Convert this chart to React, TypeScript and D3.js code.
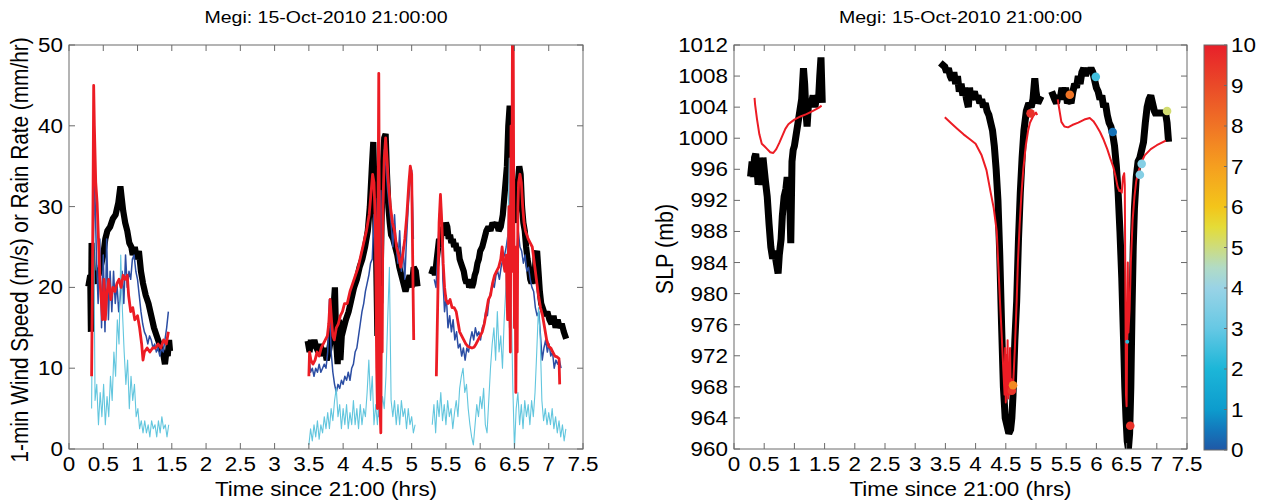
import React from "react";
import * as d3 from "d3";

type Pt = [number, number];

const titleText = "Megi: 15-Oct-2010 21:00:00";
const xLabelText = "Time since 21:00 (hrs)";
const leftYLabelText = "1-min Wind Speed (m/s) or Rain Rate (mm/hr)";
const rightYLabelText = "SLP (mb)";

const timeTicks = [0, 0.5, 1, 1.5, 2, 2.5, 3, 3.5, 4, 4.5, 5, 5.5, 6, 6.5, 7, 7.5];
const windTicks = [0, 10, 20, 30, 40, 50];
const slpTicks = [960, 964, 968, 972, 976, 980, 984, 988, 992, 996, 1000, 1004, 1008, 1012];
const colorTicks = [0, 1, 2, 3, 4, 5, 6, 7, 8, 9, 10];
const colorStopValues = [0, 0.5, 1, 2, 3, 4, 4.5, 5, 5.5, 6, 7, 8, 9, 10];
const colorStopColors = ["#1f58a6", "#1378bc", "#0d9ccd", "#1cb6d8", "#66c8e4", "#99d3e6", "#b1dbc6", "#cddc7e", "#e4dc38", "#f3c51a", "#f59f1f", "#f07425", "#ea4a28", "#e8202a"];

// ---------- Left panel: wind speed (black), blue wind, rain rate (cyan), red wind ----------
const windBlack1: Pt[] = [[0.29,20.5],[0.31,21.5],[0.32,14.5],[0.33,25.5],[0.35,21],[0.38,20.5],[0.4,22],[0.43,21.5],[0.46,22.5],[0.5,24],[0.53,26],[0.56,27],[0.6,27.5],[0.64,28.5],[0.68,29],[0.72,30.5],[0.75,32.5],[0.77,31],[0.79,29.5],[0.82,28],[0.85,27],[0.88,25.5],[0.91,25],[0.93,24],[0.96,25],[0.99,23.5],[1.02,24.5],[1.05,22],[1.08,20.5],[1.12,19],[1.16,18],[1.2,16.5],[1.24,15],[1.28,14],[1.32,13],[1.36,12],[1.38,11.5],[1.4,10.5],[1.42,12],[1.44,11.5],[1.46,13.5],[1.47,12.5]];
const windBlack2: Pt[] = [[3.49,13],[3.51,12],[3.53,13.5],[3.55,12.5],[3.58,13.5],[3.61,12.5],[3.64,12],[3.67,13],[3.7,11.5],[3.73,12.5],[3.76,11],[3.79,12],[3.82,13.5],[3.84,15],[3.86,17.5],[3.88,20],[3.9,13],[3.92,10.5],[3.94,16],[3.96,11],[3.98,14],[4.01,15],[4.04,16],[4.08,17],[4.12,18.5],[4.16,20],[4.2,21],[4.24,22.5],[4.28,23.5],[4.32,25],[4.36,27],[4.39,30],[4.42,35],[4.44,38],[4.46,31],[4.48,25],[4.5,14],[4.52,22],[4.54,18],[4.56,28],[4.58,35],[4.6,38.5],[4.62,39],[4.64,34],[4.66,30],[4.68,28],[4.7,26.5],[4.73,26],[4.76,25],[4.79,24],[4.82,22.5],[4.85,21.5],[4.88,20.5],[4.91,19.5],[4.94,20.5],[4.97,21.5],[5.0,20],[5.03,22.5],[5.06,22],[5.08,20.5]];
const windBlack3: Pt[] = [[5.3,22],[5.32,22.5],[5.34,21.5],[5.36,23],[5.38,24.5],[5.4,26],[5.42,25],[5.44,27.5],[5.46,26.5],[5.48,27],[5.5,28],[5.52,27.5],[5.54,26],[5.56,26.5],[5.58,25.5],[5.6,26],[5.62,25],[5.64,25.5],[5.66,24.5],[5.68,25],[5.7,23.5],[5.72,23],[5.74,22.5],[5.76,22],[5.78,21],[5.8,20.5],[5.82,21],[5.84,20],[5.86,20.5],[5.88,20],[5.9,20.5],[5.92,21.5],[5.94,22],[5.96,23],[5.98,23.5],[6.0,24.5],[6.03,25],[6.06,26],[6.09,27],[6.12,27.5],[6.15,27],[6.18,28],[6.21,27.5],[6.24,28],[6.27,27],[6.3,27.5],[6.33,29],[6.36,32],[6.39,35],[6.41,40],[6.43,42.5],[6.45,36],[6.47,30],[6.49,29],[6.51,28],[6.53,30],[6.55,33],[6.57,35],[6.59,34],[6.61,30],[6.63,28],[6.65,27],[6.67,25],[6.69,23.5],[6.71,22.5],[6.73,21],[6.75,20.5],[6.77,21],[6.79,20.5],[6.81,24],[6.83,24.5],[6.85,22],[6.87,19.5],[6.89,18],[6.91,17.5],[6.93,17],[6.95,16.5],[6.98,17],[7.01,16],[7.04,15.5],[7.07,16.5],[7.1,15],[7.13,16],[7.16,15],[7.19,15.5],[7.22,14.5],[7.24,14]];

const windRed1: Pt[] = [[0.33,9],[0.35,30],[0.36,45],[0.37,40],[0.39,33],[0.41,30.5],[0.43,26],[0.45,21],[0.47,18.5],[0.49,16],[0.51,21],[0.53,16],[0.55,19],[0.58,21],[0.61,18.5],[0.64,20],[0.67,19.5],[0.7,20.5],[0.73,21],[0.76,20],[0.79,21.5],[0.82,21],[0.85,21.5],[0.87,19],[0.9,17],[0.93,17.5],[0.96,16],[1.0,16.5],[1.03,15],[1.06,13],[1.08,11],[1.1,12],[1.14,12.5],[1.18,12],[1.22,12.5],[1.26,12.5],[1.3,13],[1.34,12.5],[1.38,13.5],[1.42,13],[1.45,14.5]];
const windRed2: Pt[] = [[3.5,9],[3.51,12],[3.53,11],[3.56,10.5],[3.59,11],[3.62,12],[3.65,11.5],[3.68,12.5],[3.71,13],[3.74,13.5],[3.77,14],[3.79,15.5],[3.81,18.5],[3.83,16],[3.85,14],[3.87,13.5],[3.9,15],[3.93,15.5],[3.96,16.5],[3.99,17],[4.02,18],[4.06,18],[4.1,19.5],[4.14,20.5],[4.18,21.5],[4.22,22.5],[4.26,24],[4.3,25.5],[4.34,27],[4.38,29],[4.41,32],[4.43,34],[4.45,33],[4.47,28],[4.49,10],[4.5,5],[4.51,30],[4.52,46.5],[4.53,25],[4.54,5],[4.55,2],[4.56,20],[4.57,12],[4.58,30],[4.6,36],[4.62,38.5],[4.64,36],[4.66,33],[4.69,30],[4.72,28],[4.75,27],[4.78,25],[4.81,24],[4.84,22.5],[4.87,24],[4.9,26],[4.93,29],[4.96,33],[4.98,35],[5.0,34],[5.02,20],[5.03,13.5]];
const windRed3: Pt[] = [[5.36,9],[5.38,18],[5.4,28],[5.42,31.5],[5.44,28],[5.46,23],[5.48,20],[5.5,18.5],[5.53,18],[5.56,18.5],[5.59,17.5],[5.62,17.5],[5.65,17],[5.68,15.5],[5.7,14.5],[5.73,14],[5.76,13.5],[5.79,13],[5.82,12.7],[5.85,12.6],[5.88,12.5],[5.91,12.6],[5.94,13],[5.97,13.5],[6.0,14],[6.03,14.5],[6.06,15.5],[6.09,17],[6.12,18.5],[6.15,19],[6.18,20.5],[6.21,21.5],[6.24,22],[6.27,22.5],[6.3,23.5],[6.32,25],[6.34,23],[6.36,22],[6.38,24],[6.4,16],[6.42,30],[6.43,20],[6.44,12],[6.45,40],[6.46,22],[6.47,50],[6.48,55],[6.49,30],[6.5,15],[6.51,25],[6.52,7],[6.53,20],[6.54,12],[6.55,30],[6.56,33],[6.58,34],[6.6,33],[6.62,30],[6.64,28],[6.66,27],[6.68,26.5],[6.7,26],[6.73,25.5],[6.76,25],[6.79,23],[6.82,21],[6.85,19],[6.88,17.5],[6.91,16.5],[6.94,15],[6.97,13.5],[7.0,12.7],[7.03,12.5],[7.06,12],[7.09,11.5],[7.12,11.4],[7.15,11.2],[7.16,8]];

const windBlue1 = { start: 0.35, step: 0.025, values: [24,33,24,18,26,15,24,14.5,26,16,22,17,22,18,20.5,17,19,22,18,24,20,22,21,23.5,24,22,21,19,17,15.5,14.5,14,13,14,13.5,12.5,13,12,12.5,11.5,12.5,12,13.5,15,17] };
const windBlue2 = { start: 3.5, step: 0.025, values: [11.5,9.5,10,9,10,9.5,10.5,9.5,10,10.5,10,12,18.5,12,9.5,8,7,8,7.5,8.5,8,9,8.5,9.5,8.5,10,10.5,12,12.5,14,15.5,17,18,19.5,20.5,21.5,23,23.5,29,22,31,4,32,22,37,35,32,30,28,25,29,25,23,27,22,25,21,26,30,33,34.5,26] };
const windBlue3 = { start: 5.33, step: 0.025, values: [21,20,24,29,30.5,21,17,19,15,16.5,14.5,16,13.5,14.5,12.5,13,11.5,12.5,11,12.5,12,13.5,14.5,13.5,15,14,14.5,13.5,15,15.5,17,16.5,18.5,19.5,20.5,20,21.5,22,21,22.5,23.5,24,25,26.5,15,24,35,18,24,27,25,24.5,23,24,22,22.5,21,20,19.5,17.5,16.5,17,14,11,12.5,13.5,12,13,11.5,12,10,11,10.5,11,10] };

const rain1 = { start: 0.33, step: 0.025, values: [5,34,6,8,3,7,4,8,3,6.5,4,9,6,12,9,16,13,24,17,12,8,11,5,9,6,8,4,5,2.5,3.5,2,3.5,2,3,1.5,3.5,2.5,3,1.5,3.5,2,4,2.5,3,1.5,3] };
const rain2 = { start: 3.5, step: 0.025, values: [0.5,2.5,1,3,1.5,3.5,1.2,3,2,4,2.5,4.5,2.5,5,3.5,6,7.5,4,5.5,2.5,5,3,5.5,2.5,4.5,3,6,3,5,2.5,5.5,3,5,4,7,11,6,9,3,5.5,3,7,4,6.5,5,9,16,22.5,6,4,6,3,5.5,3,6,4,5,2.5,5,3,4,2,3] };
const rain3 = { start: 5.3, step: 0.025, values: [3,5.5,2,6,4,7,3.5,5.5,3,6,4,5,2.5,4.5,6,4,7.5,9,10,7,8,5,3,1.5,0.5,3,5.5,4,6.5,5,7.5,3,2,6,10,13,15,11,17,12,14,10,16,20,26,36,20,8,0,5,7,3,5.5,2.5,6,4,5.5,3,6,4,7,12,17.5,14,6,3.5,5,3,4.5,3,5,2.5,4,2,3.5,1.5,3,1,2.5] };

// ---------- Right panel: SLP ----------
const slpBlack1: Pt[] = [[0.28,995.5],[0.3,997],[0.32,995],[0.34,997.5],[0.36,998],[0.38,996],[0.4,994],[0.42,997],[0.44,995.5],[0.46,994],[0.48,997.5],[0.5,996],[0.52,994.5],[0.55,992.5],[0.58,989],[0.61,986],[0.64,984.5],[0.67,985.5],[0.7,984],[0.73,982.6],[0.75,985],[0.78,987],[0.8,990],[0.83,992.5],[0.86,993.5],[0.88,995],[0.9,994],[0.92,993],[0.94,986.5],[0.96,997],[0.98,998.5],[1.0,999],[1.03,1000.5],[1.06,1002],[1.09,1003.5],[1.12,1005],[1.15,1009],[1.17,1007],[1.19,1003.5],[1.21,1001.5],[1.23,1004],[1.25,1005],[1.28,1004.5],[1.31,1005.5],[1.34,1004],[1.37,1005.5],[1.4,1005],[1.42,1008],[1.44,1010.4],[1.46,1005]];
const slpBlack2: Pt[] = [[3.46,1009.4],[3.49,1009.2],[3.52,1008.5],[3.55,1009],[3.58,1008],[3.61,1007.5],[3.64,1008.5],[3.67,1007],[3.7,1008],[3.73,1006],[3.76,1007],[3.79,1005.5],[3.82,1006.5],[3.85,1005],[3.88,1004],[3.9,1006.5],[3.92,1005],[3.95,1005.5],[3.98,1006],[4.01,1005],[4.04,1005.5],[4.07,1004.5],[4.1,1005],[4.13,1004],[4.16,1004.5],[4.19,1003.5],[4.22,1003],[4.25,1002],[4.28,1001],[4.31,999],[4.34,996],[4.37,992],[4.4,985],[4.43,976],[4.46,968],[4.49,964],[4.52,963],[4.55,962],[4.58,962.5],[4.6,964],[4.62,967],[4.65,974],[4.68,979],[4.71,987],[4.74,993],[4.77,997.5],[4.8,1001],[4.84,1003.5],[4.88,1004.5],[4.92,1004],[4.95,1005],[4.98,1007.7],[5.0,1006],[5.03,1004.5],[5.06,1005]];
const slpBlack3: Pt[] = [[5.28,1005.6],[5.31,1005],[5.34,1004.5],[5.37,1005.5],[5.4,1005],[5.43,1006.5],[5.46,1005.5],[5.49,1006.5],[5.52,1004.5],[5.55,1005],[5.58,1004.5],[5.61,1006],[5.64,1007],[5.67,1006.5],[5.7,1008],[5.73,1007],[5.76,1008.5],[5.79,1009],[5.82,1008],[5.85,1009],[5.88,1008.5],[5.91,1009],[5.94,1008.5],[5.97,1007.5],[6.0,1006.5],[6.03,1006],[6.06,1005],[6.09,1005.5],[6.12,1004],[6.15,1004.5],[6.18,1003],[6.21,1002],[6.24,1001.5],[6.27,1000.5],[6.3,999],[6.33,996.5],[6.36,993],[6.39,988],[6.42,982],[6.45,974],[6.47,968],[6.49,964],[6.51,961],[6.53,960],[6.55,962],[6.57,968],[6.59,978],[6.61,986],[6.63,991],[6.66,995],[6.69,997],[6.72,997.5],[6.75,998.5],[6.78,999.5],[6.81,1002],[6.84,1004],[6.87,1005],[6.9,1005.5],[6.93,1004.5],[6.96,1003.5],[6.99,1003],[7.02,1003.5],[7.05,1003],[7.08,1003.5],[7.11,1003],[7.14,1003.5],[7.17,1002],[7.19,1000]];

const slpRed1: Pt[] = [[0.34,1005.2],[0.35,1004.3],[0.38,1002.5],[0.42,1000.5],[0.46,999.3],[0.5,999],[0.55,998.6],[0.6,998.2],[0.65,998.1],[0.7,998.6],[0.75,999.4],[0.8,1000.3],[0.85,1001.2],[0.9,1001.8],[0.95,1002.1],[1.0,1002.4],[1.1,1002.8],[1.2,1003.1],[1.3,1003.5],[1.4,1003.9],[1.45,1004.2]];
const slpRed2: Pt[] = [[3.49,1002.7],[3.6,1001.9],[3.7,1001.2],[3.8,1000.5],[3.9,999.9],[4.0,999.3],[4.1,997.8],[4.18,995.9],[4.25,993],[4.3,991],[4.35,988],[4.38,983],[4.41,978],[4.43,975],[4.46,970],[4.48,967],[4.49,973],[4.5,966],[4.51,972],[4.52,967],[4.53,974],[4.54,966.5],[4.55,971],[4.56,967],[4.57,973],[4.58,967.5],[4.59,969],[4.6,967.5],[4.62,968],[4.65,973],[4.68,979],[4.7,984],[4.73,989],[4.76,993],[4.79,996],[4.83,999],[4.87,1001],[4.9,1002],[4.95,1002.8],[5.0,1003.3],[5.02,1003]];
const slpRed3: Pt[] = [[5.36,1005],[5.38,1004],[5.42,1002.1],[5.47,1001.5],[5.53,1001.4],[5.6,1001.7],[5.7,1002],[5.8,1002.4],[5.89,1002.6],[5.95,1002.2],[6.0,1001.6],[6.06,1000.8],[6.12,999.8],[6.18,998.6],[6.23,997.4],[6.28,996.3],[6.32,995],[6.35,993.8],[6.38,993.2],[6.4,993.3],[6.42,993],[6.44,995],[6.46,995.5],[6.47,994],[6.48,980],[6.49,967],[6.5,965.5],[6.51,975],[6.52,984],[6.53,975],[6.55,978],[6.57,984],[6.6,989.5],[6.63,992.5],[6.66,994.5],[6.7,995.8],[6.75,997],[6.8,997.8],[6.9,998.6],[7.0,999.1],[7.1,999.5],[7.15,999.7]];

// coloured observation points: time, SLP, colour value
const dotTimes = [4.6, 4.62, 4.91, 5.56, 5.99, 6.27, 6.51, 6.56, 6.72, 6.75, 7.17];
const dotSlp = [967.5, 968.2, 1003.2, 1005.6, 1007.9, 1000.8, 973.8, 963, 995.3, 996.7, 1003.5];
const dotValue = [9.5, 7.5, 9.6, 8, 2.5, 0.4, 2.2, 9.6, 3.6, 3.6, 5.1];
const dotSize = [4.3, 4.3, 4.3, 4.3, 4.3, 4.3, 2, 4.3, 4.3, 4.3, 4.3];

// ---------- layout ----------
const W = 1265;
const H = 504;
const SX = 1.15;
const FONT = "'Liberation Sans', Arial, Helvetica, sans-serif";
const LP = { x0: 69, x1: 583, y0: 45, y1: 449 };
const RP = { x0: 734, x1: 1187, y0: 45, y1: 449 };
const CB = { x0: 1204, x1: 1227, y0: 45, y1: 450 };
const AX = "#6a6a6a";

const sampled = (s: { start: number; step: number; values: number[] }): Pt[] =>
  s.values.map((v, i) => [s.start + i * s.step, v] as Pt);

function Txt(props: { x: number; y: number; size: number; anchor?: string; rot?: number; children: React.ReactNode }) {
  const { x, y, size, anchor = "middle", rot = 0, children } = props;
  return (
    <text
      transform={`translate(${x},${y}) scale(${SX},1)${rot ? ` rotate(${rot})` : ""}`}
      fontSize={size}
      textAnchor={anchor}
      fill="#000"
    >
      {children}
    </text>
  );
}

function Frame(props: { box: typeof LP; x: d3.ScaleLinear<number, number>; y: d3.ScaleLinear<number, number>; yTicks: number[] }) {
  const { box, x, y, yTicks } = props;
  const tl = 6;
  return (
    <g>
      <rect x={box.x0} y={box.y0} width={box.x1 - box.x0} height={box.y1 - box.y0} fill="none" stroke={AX} strokeWidth={1} />
      {timeTicks.map((t) => (
        <g key={"xt" + t}>
          <line x1={x(t)} x2={x(t)} y1={box.y1} y2={box.y1 - tl} stroke={AX} />
          <line x1={x(t)} x2={x(t)} y1={box.y0} y2={box.y0 + tl} stroke={AX} />
          <Txt x={x(t)} y={471} size={19.5}>{String(t)}</Txt>
        </g>
      ))}
      {yTicks.map((v) => (
        <g key={"yt" + v}>
          <line x1={box.x0} x2={box.x0 + tl} y1={y(v)} y2={y(v)} stroke={AX} />
          <line x1={box.x1} x2={box.x1 - tl} y1={y(v)} y2={y(v)} stroke={AX} />
          <Txt x={box.x0 - 6} y={y(v) + 7} size={19.5} anchor="end">{String(v)}</Txt>
        </g>
      ))}
      <Txt x={(box.x0 + box.x1) / 2} y={496} size={19.5}>{xLabelText}</Txt>
      <Txt x={(box.x0 + box.x1) / 2} y={23} size={17}>{titleText}</Txt>
    </g>
  );
}

export default function App() {
  const xL = d3.scaleLinear().domain([0, 7.5]).range([LP.x0, LP.x1]);
  const yL = d3.scaleLinear().domain([0, 50]).range([LP.y1, LP.y0]);
  const xR = d3.scaleLinear().domain([0, 7.5]).range([RP.x0, RP.x1]);
  const yR = d3.scaleLinear().domain([960, 1012]).range([RP.y1, RP.y0]);
  const yC = d3.scaleLinear().domain([0, 10]).range([CB.y1, CB.y0]);
  const cmap = d3.scaleLinear<string>().domain(colorStopValues).range(colorStopColors).clamp(true);

  const lineL = d3.line<Pt>().x((d) => xL(d[0])).y((d) => yL(d[1]));
  const lineR = d3.line<Pt>().x((d) => xR(d[0])).y((d) => yR(d[1]));

  const blackL = [windBlack1, windBlack2, windBlack3];
  const blueL = [windBlue1, windBlue2, windBlue3].map(sampled);
  const rainL = [rain1, rain2, rain3].map(sampled);
  const redL = [windRed1, windRed2, windRed3];
  const blackR = [slpBlack1, slpBlack2, slpBlack3];
  const redR = [slpRed1, slpRed2, slpRed3];

  const gradStops = d3.range(0, 10.01, 0.5);

  return (
    <svg width={W} height={H} style={{ position: "absolute", left: 0, top: 0, background: "#fff" }} fontFamily={FONT}>
      <defs>
        <clipPath id="clipL"><rect x={LP.x0} y={LP.y0} width={LP.x1 - LP.x0} height={LP.y1 - LP.y0} /></clipPath>
        <clipPath id="clipR"><rect x={RP.x0} y={RP.y0} width={RP.x1 - RP.x0} height={RP.y1 - RP.y0} /></clipPath>
        <linearGradient id="cbGrad" x1="0" y1="1" x2="0" y2="0">
          {gradStops.map((v) => (
            <stop key={v} offset={`${v * 10}%`} stopColor={cmap(v)} />
          ))}
        </linearGradient>
      </defs>
      <rect x={0} y={0} width={W} height={H} fill="#fff" />

      {/* Left panel */}
      <g clipPath="url(#clipL)" fill="none">
        {blackL.map((s, i) => (
          <path key={"bl" + i} d={lineL(s) || ""} stroke="#000" strokeWidth={6.2} strokeLinejoin="miter" strokeMiterlimit={1.6} strokeLinecap="square" />
        ))}
        {blueL.map((s, i) => (
          <path key={"bu" + i} d={lineL(s) || ""} stroke="#2b4da3" strokeWidth={1.5} strokeLinejoin="round" />
        ))}
        {rainL.map((s, i) => (
          <path key={"rn" + i} d={lineL(s) || ""} stroke="#62c6de" strokeWidth={1.1} strokeLinejoin="round" />
        ))}
        {redL.map((s, i) => (
          <path key={"rd" + i} d={lineL(s) || ""} stroke="#ec1c24" strokeWidth={2.8} strokeLinejoin="round" />
        ))}
      </g>
      <Frame box={LP} x={xL} y={yL} yTicks={windTicks} />
      <Txt x={28} y={250} size={20.8} rot={-90}>{leftYLabelText}</Txt>

      {/* Right panel */}
      <g clipPath="url(#clipR)" fill="none">
        {blackR.map((s, i) => (
          <path key={"br" + i} d={lineR(s) || ""} stroke="#000" strokeWidth={7} strokeLinejoin="miter" strokeMiterlimit={1.6} strokeLinecap="square" />
        ))}
        {redR.map((s, i) => (
          <path key={"rr" + i} d={lineR(s) || ""} stroke="#ec1c24" strokeWidth={2} strokeLinejoin="round" />
        ))}
        {dotTimes.map((t, i) => (
          <circle key={"dt" + i} cx={xR(t)} cy={yR(dotSlp[i])} r={dotSize[i]} fill={cmap(dotValue[i])} stroke="none" />
        ))}
      </g>
      <Frame box={RP} x={xR} y={yR} yTicks={slpTicks} />
      <Txt x={673} y={249} size={21.5} rot={-90}>{rightYLabelText}</Txt>

      {/* Colorbar */}
      <rect x={CB.x0} y={CB.y0} width={CB.x1 - CB.x0} height={CB.y1 - CB.y0} fill="url(#cbGrad)" stroke={AX} strokeWidth={1} />
      {colorTicks.map((v) => (
        <g key={"ct" + v}>
          <line x1={CB.x1} x2={CB.x1 - 3} y1={yC(v)} y2={yC(v)} stroke={AX} />
          <Txt x={CB.x1 + 4} y={yC(v) + 7} size={19.5} anchor="start">{String(v)}</Txt>
        </g>
      ))}
    </svg>
  );
}
